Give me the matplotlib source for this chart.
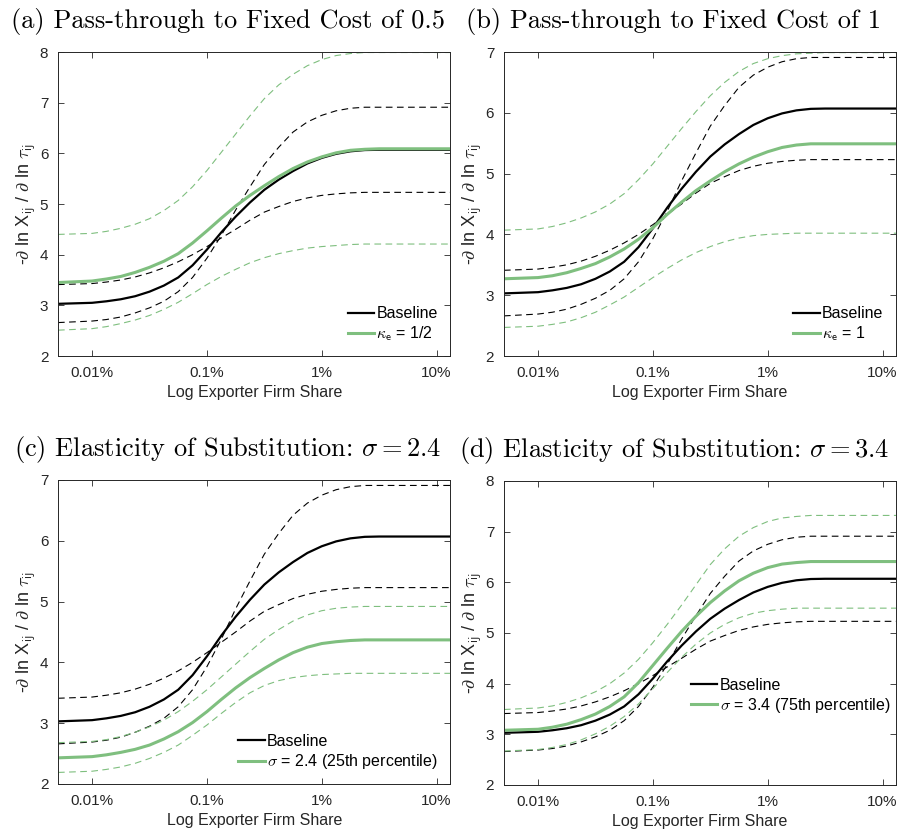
import matplotlib
matplotlib.use('Agg')
import matplotlib.pyplot as plt

share_pct = [0.00505, 0.01, 0.01334, 0.01778, 0.02371, 0.03162, 0.04217, 0.05623,
             0.07499, 0.1, 0.1334, 0.1778, 0.2371, 0.3162, 0.4217, 0.5623,
             0.7499, 1.0, 1.334, 1.778, 2.371, 3.162, 13.18]

# baseline elasticity and its band (same in every panel)
baseline = [3.03, 3.05, 3.08, 3.12, 3.18, 3.27, 3.39, 3.55, 3.79, 4.10, 4.44, 4.75,
            5.03, 5.28, 5.48, 5.65, 5.80, 5.91, 5.99, 6.04, 6.065, 6.07, 6.07]
baseline_hi = [2.66, 2.69, 2.72, 2.77, 2.85, 2.95, 3.08, 3.27, 3.55, 3.93, 4.38, 4.88,
               5.34, 5.78, 6.12, 6.42, 6.62, 6.75, 6.84, 6.89, 6.91, 6.91, 6.91]
baseline_lo = [3.41, 3.43, 3.46, 3.50, 3.56, 3.64, 3.74, 3.86, 4.00, 4.16, 4.33, 4.50,
               4.68, 4.84, 4.95, 5.05, 5.12, 5.17, 5.20, 5.22, 5.23, 5.23, 5.23]

# (a) kappa_e = 1/2
ke_half = [3.45, 3.48, 3.52, 3.57, 3.65, 3.75, 3.87, 4.02, 4.23, 4.47, 4.72, 4.96,
           5.17, 5.36, 5.54, 5.70, 5.83, 5.93, 6.01, 6.06, 6.08, 6.09, 6.09]
ke_half_hi = [4.40, 4.42, 4.46, 4.52, 4.60, 4.71, 4.87, 5.07, 5.34, 5.66, 6.02, 6.38,
              6.74, 7.08, 7.35, 7.56, 7.73, 7.85, 7.93, 7.97, 7.99, 7.99, 7.99]
ke_half_lo = [2.51, 2.54, 2.58, 2.64, 2.71, 2.80, 2.92, 3.06, 3.23, 3.41, 3.57, 3.71,
              3.84, 3.94, 4.02, 4.08, 4.13, 4.16, 4.18, 4.20, 4.21, 4.21, 4.21]

# (b) kappa_e = 1
ke_one = [3.27, 3.29, 3.32, 3.37, 3.44, 3.52, 3.63, 3.76, 3.92, 4.11, 4.33, 4.53,
          4.72, 4.88, 5.03, 5.16, 5.27, 5.36, 5.43, 5.47, 5.49, 5.49, 5.49]
ke_one_hi = [4.07, 4.09, 4.13, 4.19, 4.27, 4.37, 4.50, 4.67, 4.90, 5.16, 5.45, 5.74,
             6.02, 6.28, 6.50, 6.68, 6.81, 6.89, 6.94, 6.97, 6.98, 6.99, 6.99]
ke_one_lo = [2.47, 2.49, 2.52, 2.56, 2.63, 2.72, 2.84, 2.97, 3.13, 3.29, 3.44, 3.58,
             3.70, 3.80, 3.88, 3.94, 3.98, 4.00, 4.01, 4.02, 4.02, 4.02, 4.02]

# (c) sigma = 2.4
sig24 = [2.43, 2.45, 2.48, 2.52, 2.57, 2.64, 2.74, 2.86, 3.01, 3.19, 3.39, 3.58,
         3.75, 3.90, 4.04, 4.16, 4.25, 4.31, 4.34, 4.36, 4.37, 4.37, 4.37]
sig24_hi = [2.68, 2.70, 2.73, 2.78, 2.85, 2.94, 3.05, 3.19, 3.36, 3.55, 3.76, 3.97,
            4.18, 4.38, 4.54, 4.68, 4.78, 4.85, 4.89, 4.91, 4.92, 4.92, 4.92]
sig24_lo = [2.19, 2.21, 2.24, 2.28, 2.34, 2.42, 2.52, 2.64, 2.80, 2.97, 3.16, 3.34,
            3.50, 3.62, 3.70, 3.75, 3.78, 3.80, 3.81, 3.82, 3.82, 3.82, 3.82]

# (d) sigma = 3.4
sig34 = [3.08, 3.10, 3.14, 3.20, 3.29, 3.40, 3.55, 3.74, 4.02, 4.36, 4.70, 5.03,
         5.33, 5.60, 5.83, 6.03, 6.18, 6.29, 6.36, 6.39, 6.41, 6.41, 6.41]
sig34_hi = [3.49, 3.52, 3.56, 3.63, 3.72, 3.84, 4.00, 4.21, 4.48, 4.81, 5.17, 5.55,
            5.95, 6.35, 6.66, 6.91, 7.08, 7.20, 7.27, 7.30, 7.32, 7.32, 7.32]
sig34_lo = [2.67, 2.70, 2.74, 2.80, 2.89, 3.01, 3.16, 3.35, 3.60, 3.90, 4.22, 4.52,
            4.78, 5.00, 5.17, 5.30, 5.39, 5.44, 5.47, 5.49, 5.49, 5.49, 5.49]

xticks = [0.01, 0.1, 1, 10]
xticklabels = ['0.01%', '0.1%', '1%', '10%']

titles = ['(a) Pass-through to Fixed Cost of 0.5',
          '(b) Pass-through to Fixed Cost of 1',
          r'(c) Elasticity of Substitution: $\sigma = 2.4$',
          r'(d) Elasticity of Substitution: $\sigma = 3.4$']
labels = [r'$\kappa_{\mathsf{e}}$ = 1/2', r'$\kappa_{\mathsf{e}}$ = 1',
          r'$\sigma$ = 2.4 (25th percentile)', r'$\sigma$ = 3.4 (75th percentile)']
alt = [(ke_half, ke_half_hi, ke_half_lo), (ke_one, ke_one_hi, ke_one_lo),
       (sig24, sig24_hi, sig24_lo), (sig34, sig34_hi, sig34_lo)]
ylims = [(2, 8), (2, 7), (2, 7), (2, 8)]

plt.rcParams['font.family'] = ['Liberation Sans', 'DejaVu Sans']
plt.rcParams['mathtext.fontset'] = 'cm'

green = '#7fbf7f'
axcol = '#262626'

fig = plt.figure(figsize=(8.98, 8.32), dpi=100)
boxes = [(0.0646, 0.5721), (0.5612, 0.5721), (0.0646, 0.0577), (0.5612, 0.0565)]

for i, (x0, y0) in enumerate(boxes):
    ax = fig.add_axes([x0, y0, 0.4370, 0.3654])
    mid, hi, lo = alt[i]
    ax.plot(share_pct, baseline_hi, color='black', lw=0.8, dashes=(6, 4))
    ax.plot(share_pct, baseline_lo, color='black', lw=0.8, dashes=(6, 4))
    ax.plot(share_pct, hi, color=green, lw=0.8, dashes=(6, 4))
    ax.plot(share_pct, lo, color=green, lw=0.8, dashes=(6, 4))
    ax.plot(share_pct, baseline, color='black', lw=1.6, label='Baseline')
    ax.plot(share_pct, mid, color=green, lw=2.2, label=labels[i])
    ax.set_xscale('log')
    ax.set_xlim(0.00505, 13.2)
    ax.set_ylim(*ylims[i])
    ax.set_xticks(xticks)
    ax.set_xticklabels(xticklabels)
    ax.minorticks_off()
    ax.tick_params(direction='in', top=True, right=True, length=4, width=0.6,
                   colors=axcol, labelsize=11, pad=7)
    for s in ax.spines.values():
        s.set_color(axcol)
        s.set_linewidth(0.7)
    ax.set_xlabel('Log Exporter Firm Share', fontsize=11.5, color=axcol, labelpad=4)
    ax.set_ylabel(r'-$\partial$ ln X$_{\mathsf{ij}}$ / $\partial$ ln $\tau_{\mathsf{ij}}$',
                  fontsize=13, color=axcol, labelpad=1)
    if i == 3:
        ax.legend(loc='upper left', bbox_to_anchor=(0.44, 0.40), frameon=False,
                  fontsize=11.5, handlelength=1.65, handletextpad=0.15,
                  labelspacing=0.2)
    else:
        ax.legend(loc='lower right', frameon=False, fontsize=11.5,
                  handlelength=1.65, handletextpad=0.15, labelspacing=0.2,
                  borderaxespad=0.4)
    ax.set_title(titles[i], fontsize=19, family='cmr10', pad=17, x=0.433)

fig.savefig('out.png', dpi=100)
